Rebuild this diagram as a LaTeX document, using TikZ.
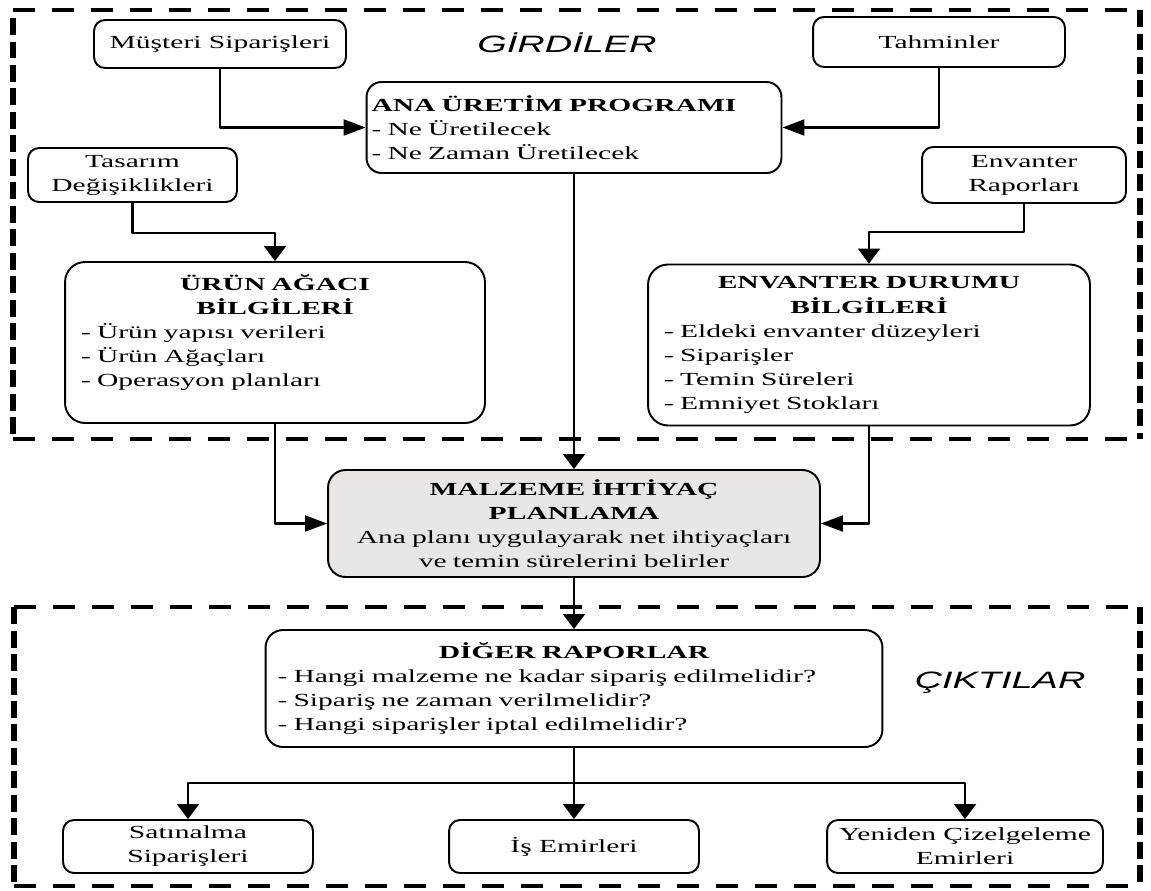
\documentclass[tikz,border=0pt]{standalone}
\usepackage{fontspec}
\setmainfont{Liberation Serif}[FakeStretch=1.6]
\newfontfamily\bolumfont{Liberation Sans}[FakeStretch=1.6]
\usetikzlibrary{arrows.meta}

\definecolor{mipgri}{RGB}{234,230,228}
\newcommand{\metin}{\fontsize{10.5}{13.7}\selectfont}

\tikzset{
  kutu/.style={draw, line width=1.1pt, rounded corners=0.22cm, align=center, inner sep=2pt, font=\metin},
  buyukkutu/.style={draw, line width=1.1pt, rounded corners=0.4cm, align=left, inner ysep=3pt, font=\metin},
  yatay/.style={line width=2.2pt, dash pattern=on 0.44cm off 0.34cm},
  dikey/.style={line width=3.2pt, dash pattern=on 0.34cm off 0.13cm},
  okv/.style={line width=1.2pt, -{Triangle[length=0.3cm, width=0.44cm]}},
  okh/.style={line width=1.2pt, -{Triangle[length=0.44cm, width=0.32cm]}},
  bolum/.style={font=\bolumfont\fontsize{13.5}{16}\selectfont\itshape}
}

\begin{document}
\begin{tikzpicture}[x=0.02cm, y=-0.02cm, line join=round]
  \useasboundingbox (0,0) rectangle (1151,890);

  % kesikli cerceveler (girdiler / ciktilar)
  \draw[yatay] (13,10) -- (1140,10);
  \draw[yatay] (13,439) -- (1140,439);
  \draw[dikey] (13,18) -- (13,439);
  \draw[dikey] (1140,10) -- (1140,439);
  \draw[yatay] (14,607) -- (1140,607);
  \draw[yatay] (14,886) -- (1140,886);
  \draw[dikey] (14,607) -- (14,886);
  \draw[dikey] (1140,607) -- (1140,886);

  \node[bolum] (girdi) at (567,43) {GİRDİLER};
  \node[bolum] (cikti) at (1000,683) {ÇIKTILAR};

  % girdiler
  \node[kutu, minimum width=5.04cm, minimum height=0.96cm] (mus) at (220,44) {Müşteri Siparişleri};
  \node[kutu, minimum width=5.04cm, minimum height=1.0cm] (tah) at (939,42) {Tahminler};
  \node[buyukkutu, inner xsep=0.1cm, text width=8.1cm, minimum height=1.82cm, rounded corners=0.3cm] (ana) at (574,127.5)
    {\textbf{ANA ÜRETİM PROGRAMI}\\- Ne Üretilecek\\- Ne Zaman Üretilecek};
  \node[kutu, minimum width=4.18cm, minimum height=1.08cm] (tas) at (132.5,175) {Tasarım\\Değişiklikleri};
  \node[kutu, minimum width=4.08cm, minimum height=1.12cm] (envr) at (1024,175) {Envanter\\Raporları};
  \node[buyukkutu, inner xsep=0.32cm, text width=7.76cm, minimum height=3.22cm] (urun) at (275,342.5)
    {{\centering\bfseries ÜRÜN AĞACI\\BİLGİLERİ\par}- Ürün yapısı verileri\\- Ürün Ağaçları\\- Operasyon planları\\\mbox{}};
  \node[buyukkutu, inner xsep=0.32cm, text width=8.2cm, minimum height=3.22cm] (env) at (869,345)
    {{\centering\bfseries ENVANTER DURUMU\\BİLGİLERİ\par}- Eldeki envanter düzeyleri\\- Siparişler\\- Temin Süreleri\\- Emniyet Stokları};

  % MIP
  \node[buyukkutu, fill=mipgri, align=center, inner xsep=0.2cm, text width=9.44cm, minimum height=2.14cm, rounded corners=0.35cm] (mip) at (574,523.5)
    {\textbf{MALZEME İHTİYAÇ}\\\textbf{PLANLAMA}\\Ana planı uygulayarak net ihtiyaçları\\ve temin sürelerini belirler};

  % ciktilar
  \node[buyukkutu, inner xsep=0.24cm, text width=11.86cm, minimum height=2.34cm, rounded corners=0.35cm] (diger) at (574,688.5)
    {{\centering\bfseries DİĞER RAPORLAR\par}- Hangi malzeme ne kadar sipariş edilmelidir?\\- Sipariş ne zaman verilmelidir?\\- Hangi siparişler iptal edilmelidir?};
  \node[kutu, minimum width=5.0cm, minimum height=1.06cm] (sat) at (188,846.5) {Satınalma\\Siparişleri};
  \node[kutu, minimum width=5.0cm, minimum height=1.06cm] (is) at (574,846.5) {İş Emirleri};
  \node[kutu, minimum width=5.52cm, minimum height=1.06cm] (yen) at (965,846.5) {Yeniden Çizelgeleme\\Emirleri};

  % baglantilar
  \draw[okh] (mus.south) |- (ana.west);
  \draw[okh] (tah.south) |- (ana.east);
  \draw[okv] (tas.south) -- ++(0,30) -| (urun.north);
  \draw[okv] (envr.south) -- ++(0,28) -| (env.north);
  \draw[okv] (ana.south) -- (mip.north);
  \draw[okh] (urun.south) |- (mip.west);
  \draw[okh] (env.south) |- (mip.east);
  \draw[okv] (mip.south) -- (diger.north);
  \draw[okv] (diger.south) -- ++(0,35) coordinate (dal) -- (is.north);
  \draw[okv] (dal) -| (sat.north);
  \draw[okv] (dal) -| (yen.north);
\end{tikzpicture}
\end{document}
